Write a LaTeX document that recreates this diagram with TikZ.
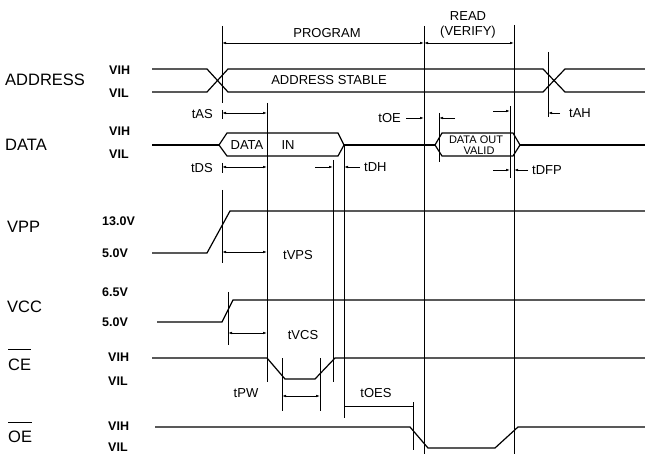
\documentclass[tikz,border=0pt]{standalone}
\usepackage{fontspec}
\setmainfont{Liberation Sans}
\usetikzlibrary{arrows.meta}
\tikzset{
  wave/.style={line width=1.2pt, line join=miter},
  guide/.style={line width=0.9pt},
  dimline/.style={line width=0.7pt, {Latex[length=4pt,width=2.6pt]}-{Latex[length=4pt,width=2.6pt]}},
  dimone/.style={line width=0.7pt, -{Latex[length=4pt,width=2.6pt]}},
  biglabel/.style={font=\fontsize{16.5}{18}\selectfont, anchor=west, inner sep=0pt},
  lvl/.style={font=\bfseries\fontsize{12.5}{14}\selectfont, anchor=west, inner sep=0pt},
  tlab/.style={font=\fontsize{13}{15}\selectfont, inner sep=0pt},
  smalltxt/.style={font=\fontsize{11}{12}\selectfont, inner sep=0pt}
}
\begin{document}
\begin{tikzpicture}[x=1pt,y=-1pt]
\useasboundingbox (0,0) rectangle (645,454);

% signal names
\node[biglabel] (nAddr) at (5,80) {ADDRESS};
\node[biglabel] (nData) at (5,145) {DATA};
\node[biglabel] (nVpp) at (7,227) {VPP};
\node[biglabel] (nVcc) at (7,307) {VCC};
\node[biglabel] (nCe) at (8,365) {CE};
\node[biglabel] (nOe) at (8,437) {OE};
\draw[line width=0.9pt] ([yshift=10pt]nCe.north west) -- ([yshift=10pt]nCe.north east);
\draw[line width=0.9pt] ([yshift=9pt]nOe.north west) -- ([yshift=9pt]nOe.north east);

% level labels
\node[lvl] (aH) at (109,70) {VIH};
\node[lvl] (aL) at (109,93) {VIL};
\node[lvl] (dH) at (109,131) {VIH};
\node[lvl] (dL) at (109,154) {VIL};
\node[lvl] (pH) at (102,221) {13.0V};
\node[lvl] (pL) at (102,253) {5.0V};
\node[lvl] (cH) at (102,292) {6.5V};
\node[lvl] (cL) at (102,322) {5.0V};
\node[lvl] (eH) at (108,357) {VIH};
\node[lvl] (eL) at (108,381) {VIL};
\node[lvl] (oH) at (108,426) {VIH};
\node[lvl] (oL) at (108,447) {VIL};

% guide lines
\draw[guide] (222,26) -- (222,103);
\draw[guide] (222,110) -- (222,119);
\draw[guide] (222,163) -- (222,173);
\draw[guide] (222,190) -- (222,263);
\draw[guide] (267,103) -- (267,382);
\draw[guide] (228,292) -- (228,345);
\draw[guide] (282,358) -- (282,411);
\draw[guide] (320,358) -- (320,411);
\draw[guide] (333,160) -- (333,382);
\draw[guide] (344,145) -- (344,418);
\draw[guide] (413,402) -- (413,450);
\draw[guide] (424,26) -- (424,454);
\draw[guide] (439,113) -- (439,162);
\draw[guide] (510,106) -- (510,178);
\draw[guide] (514,25) -- (514,454);
\draw[guide] (548,52) -- (548,117);

% phase arrows
\draw[dimline] (222,43) -- (424,43);
\draw[dimline] (424,43) -- (514,43);
\node[tlab] (tProg) at (327,33) {PROGRAM};
\node[tlab] (tRead) at (468,16) {READ};
\node[tlab] (tVer) at (468,32) {(VERIFY)};

% ADDRESS
\draw[wave] (152,69) -- (207,69) -- (228,92) -- (543,92) -- (565,69) -- (645,69);
\draw[wave] (152,92) -- (207,92) -- (228,69) -- (543,69) -- (565,92) -- (645,92);
\node[tlab] (tStable) at (329,80) {ADDRESS STABLE};

% DATA
\draw[wave] (152,145) -- (219,145);
\draw[wave] (219,145) -- (227,133) -- (338,133) -- (344,145) -- (338,156) -- (227,156) -- cycle;
\draw[wave] (344,145) -- (435,145);
\draw[wave] (435,145) -- (442,133) -- (513,133) -- (520,145) -- (513,156) -- (442,156) -- cycle;
\draw[wave] (520,145) -- (645,145);
\node[tlab] (tDin1) at (247,145) {DATA};
\node[tlab] (tDin2) at (288,145) {IN};
\node[smalltxt] (tDout1) at (476,140) {DATA OUT};
\node[smalltxt] (tDout2) at (479,151) {VALID};

% VPP, VCC
\draw[wave] (152,253) -- (207,253) -- (230,211) -- (645,211);
\draw[wave] (157,322) -- (222,322) -- (233,300) -- (645,300);

% CE, OE
\draw[wave] (152,358) -- (267,358) -- (285,379) -- (315,379) -- (335,358) -- (645,358);
\draw[wave] (155,427) -- (410,427) -- (428,448) -- (495,448) -- (518,427) -- (645,427);

% timing dimensions
\draw[dimline] (222,113) -- (267,113);
\node[tlab, anchor=east] (tAS) at (213,114) {tAS};
\draw[dimline] (222,167) -- (267,167);
\node[tlab, anchor=east] (tDS) at (213,168) {tDS};
\draw[dimone] (315,167) -- (333,167);
\draw[dimone] (360,167) -- (344,167);
\node[tlab, anchor=west] (tDH) at (364,167) {tDH};
\draw[dimone] (406,118) -- (424,118);
\draw[dimone] (455,118) -- (439,118);
\node[tlab, anchor=east] (tOE) at (401,118) {tOE};
\draw[dimone] (493,111) -- (510,111);
\draw[dimone] (493,170) -- (510,170);
\draw[dimone] (528,170) -- (514,170);
\node[tlab, anchor=west] (tDFP) at (532,170) {tDFP};
\draw[dimone] (560,113) -- (548,113);
\node[tlab, anchor=west] (tAH) at (569,113) {tAH};
\draw[dimline] (222,252) -- (267,252);
\node[tlab] (tVPS) at (298,255) {tVPS};
\draw[dimline] (228,333) -- (267,333);
\node[tlab] (tVCS) at (303,335) {tVCS};
\draw[dimline] (282,396) -- (320,396);
\node[tlab] (tPW) at (246,393) {tPW};
\draw[guide] (344,406) -- (413,406);
\node[tlab] (tOES) at (376,393) {tOES};
\end{tikzpicture}
\end{document}
